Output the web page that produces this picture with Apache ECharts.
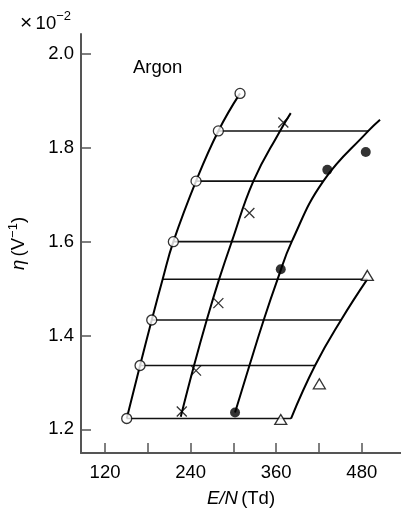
<!DOCTYPE html>
<html>
<head>
<meta charset="utf-8">
<script src="https://cdn.jsdelivr.net/npm/echarts@6/dist/echarts.min.js"></script>
<style>
  html, body { margin: 0; padding: 0; background: #fff; }
  #chart { width: 401px; height: 508px; }
</style>
</head>
<body>
<div id="chart"></div>
<script>
// Ionization coefficient eta (x 10^-2 V^-1) against reduced field E/N (Td), argon.

// Marker groups
const openCircleE   = [150.4, 169.1, 185.5, 215.8, 247.6, 278.9, 309.3];
const openCircleEta = [1.223, 1.336, 1.433, 1.600, 1.729, 1.836, 1.916];

const crossE   = [227.6, 247.6, 278.9, 322.4, 370.0];
const crossEta = [1.238, 1.325, 1.469, 1.661, 1.854];

const filledE   = [302.3, 366.4, 431.7, 485.6];
const filledEta = [1.236, 1.541, 1.753, 1.791];

const triangleE   = [366.4, 420.5, 487.8];
const triangleEta = [1.221, 1.297, 1.528];

// Fitted curves
const curveOpenE     = [150.4, 169.1, 185.5, 200.8, 215.8, 247.6, 278.9, 309.3];
const curveOpenEta   = [1.223, 1.336, 1.433, 1.520, 1.600, 1.729, 1.836, 1.916];
const curveCrossE    = [226.2, 244.8, 262.6, 280.0, 297.7, 328.0, 365.4, 380.4];
const curveCrossEta  = [1.227, 1.336, 1.433, 1.520, 1.600, 1.729, 1.836, 1.874];
const curveFilledE   = [302.3, 322.5, 342.5, 362.0, 381.8, 426.1, 489.2, 505.6];
const curveFilledEta = [1.236, 1.336, 1.433, 1.520, 1.600, 1.729, 1.836, 1.860];
const curveTriE      = [380.8, 414.5, 451.0, 487.8];
const curveTriEta    = [1.223, 1.336, 1.433, 1.520];

// Constant-eta tie lines
const levelEta   = [1.223, 1.336, 1.433, 1.520, 1.600, 1.729, 1.836];
const levelFromE = [150.4, 169.1, 185.5, 200.8, 215.8, 247.6, 278.9];
const levelToE   = [380.8, 414.5, 451.0, 487.8, 381.8, 426.1, 489.2];

// Axis ticks
const xTickValues  = [120, 180, 240, 300, 360, 420, 480];
const xLabelValues = [120, 240, 360, 480];
const yTickValues  = [1.2, 1.4, 1.6, 1.8, 2.0];

const FONT = "'Liberation Sans', Arial, Helvetica, sans-serif";
const FS = 18.5;
const zip = (a, b) => a.map((v, i) => [v, b[i]]);

const curveSeries = (xs, ys) => ({
  type: 'line',
  data: zip(xs, ys),
  smooth: 0.45,
  showSymbol: false,
  symbol: 'none',
  silent: true,
  lineStyle: { color: '#000', width: 2 },
  z: 3
});

const tieSeries = levelEta.map((eta, i) => ({
  type: 'line',
  data: [[levelFromE[i], eta], [levelToE[i], eta]],
  showSymbol: false,
  symbol: 'none',
  silent: true,
  lineStyle: { color: '#111', width: 1.6 },
  z: 2
}));

const chart = echarts.init(document.getElementById('chart'), null, { renderer: 'canvas' });

chart.setOption({
  animation: false,
  backgroundColor: '#fff',
  textStyle: { fontFamily: FONT },
  grid: { left: 81, right: 0, top: 34, bottom: 55, containLabel: false, outerBoundsMode: 'none' },
  xAxis: {
    type: 'value',
    min: 86.3,
    max: 535,
    name: '{i|E/N} {n|(Td)}',
    nameLocation: 'middle',
    nameGap: 36,
    nameTextStyle: {
      rich: {
        i: { fontFamily: FONT, fontSize: FS, fontStyle: 'italic', color: '#000' },
        n: { fontFamily: FONT, fontSize: FS, color: '#000' }
      }
    },
    axisLine: { lineStyle: { color: '#555', width: 2 } },
    axisTick: { inside: true, length: 10, customValues: xTickValues, lineStyle: { color: '#555', width: 1.5 } },
    axisLabel: { customValues: xLabelValues, margin: 10, color: '#000', fontFamily: FONT, fontSize: FS },
    splitLine: { show: false }
  },
  yAxis: {
    type: 'value',
    min: 1.1495,
    max: 2.0426,
    name: '{i|η} {n|(V}{s|−1}{n|)}',
    nameLocation: 'middle',
    nameRotate: 90,
    nameGap: 50,
    nameTextStyle: {
      rich: {
        i: { fontFamily: FONT, fontSize: FS, fontStyle: 'italic', color: '#000' },
        n: { fontFamily: FONT, fontSize: FS, color: '#000' },
        s: { fontFamily: FONT, fontSize: 13, color: '#000', verticalAlign: 'top', lineHeight: 24 }
      }
    },
    axisLine: { show: true, lineStyle: { color: '#555', width: 2 } },
    axisTick: { show: true, inside: true, length: 10, customValues: yTickValues, lineStyle: { color: '#555', width: 1.5 } },
    axisLabel: {
      customValues: yTickValues,
      margin: 7,
      color: '#000',
      fontFamily: FONT,
      fontSize: FS,
      formatter: v => v.toFixed(1)
    },
    splitLine: { show: false }
  },
  graphic: [
    {
      type: 'text',
      left: 20,
      top: 9,
      style: {
        text: '{x|×} {n|10}{s|−2}',
        rich: {
          x: { fontFamily: FONT, fontSize: 21, color: '#000', verticalAlign: 'middle', lineHeight: 24, padding: [4, 0, 0, 0] },
          n: { fontFamily: FONT, fontSize: FS, color: '#000', verticalAlign: 'bottom', lineHeight: 24 },
          s: { fontFamily: FONT, fontSize: 13, color: '#000', verticalAlign: 'top', lineHeight: 24 }
        }
      }
    },
    {
      type: 'text',
      left: 133,
      top: 58,
      style: { text: 'Argon', fontFamily: FONT, fontSize: FS, fill: '#000' }
    }
  ],
  series: [
    ...tieSeries,
    curveSeries(curveOpenE, curveOpenEta),
    curveSeries(curveCrossE, curveCrossEta),
    curveSeries(curveFilledE, curveFilledEta),
    curveSeries(curveTriE, curveTriEta),
    {
      type: 'scatter',
      data: zip(openCircleE, openCircleEta),
      symbol: 'circle',
      symbolSize: 10,
      itemStyle: { color: '#fff', borderColor: '#000', borderWidth: 1.3 },
      z: 5
    },
    {
      type: 'scatter',
      data: zip(crossE, crossEta),
      symbol: 'path://M0,0L10,10M0,10L10,0',
      symbolKeepAspect: true,
      symbolSize: 10,
      itemStyle: { color: 'rgba(0,0,0,0)', borderColor: '#000', borderWidth: 1.3 },
      z: 5
    },
    {
      type: 'scatter',
      data: zip(filledE, filledEta),
      symbol: 'circle',
      symbolSize: 10,
      itemStyle: { color: '#000' },
      z: 5
    },
    {
      type: 'scatter',
      data: zip(triangleE, triangleEta),
      symbol: 'triangle',
      symbolSize: [12, 10],
      itemStyle: { color: '#fff', borderColor: '#000', borderWidth: 1.3 },
      z: 5
    }
  ]
});
</script>
</body>
</html>
